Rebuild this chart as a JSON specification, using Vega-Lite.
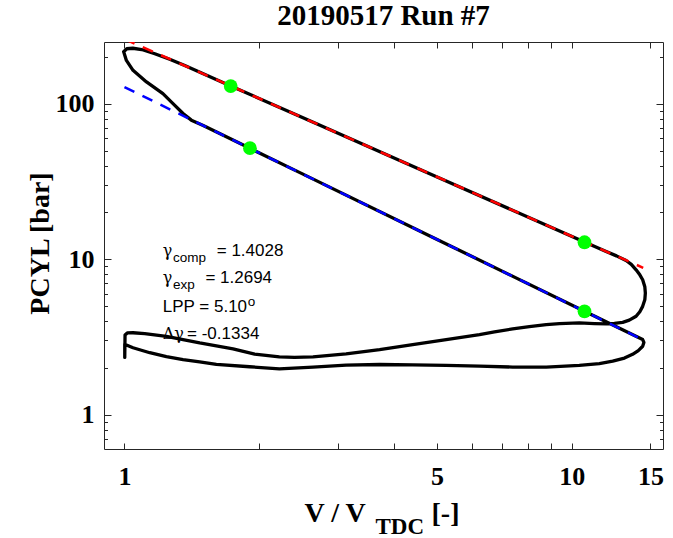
{
  "$schema": "https://vega.github.io/schema/vega-lite/v6.json",
  "width": 559,
  "height": 407,
  "autosize": {"type": "none"},
  "padding": {"left": 104, "top": 42, "right": 10, "bottom": 89},
  "background": "white",
  "config": {
    "view": {"stroke": "#262626", "strokeWidth": 1},
    "axis": {
      "domain": false, "grid": false, "tickColor": "#262626", "tickWidth": 1,
      "labelColor": "#000000", "labelFont": "Liberation Serif", "labelFontWeight": "bold", "labelFontSize": 26,
      "labelOverlap": false,
      "titleFont": "Liberation Serif", "titleFontWeight": "bold", "titleFontSize": 28, "titleColor": "#000000"
    }
  },
  "title": {"text": "20190517 Run #7", "frame": "group", "orient": "top", "font": "Liberation Serif", "fontSize": 29, "fontWeight": "bold", "color": "#000000", "anchor": "middle", "baseline": "alphabetic", "offset": -12},
  "datasets": {
    "loop": [
      {"i": 1, "V": 0.996, "p": 216.4}, {"i": 2, "V": 1.012, "p": 226.2}, {"i": 3, "V": 1.044, "p": 227.9},
      {"i": 4, "V": 1.093, "p": 223.6}, {"i": 5, "V": 1.169, "p": 210.1}, {"i": 6, "V": 1.262, "p": 193.7},
      {"i": 7, "V": 1.364, "p": 176.5}, {"i": 8, "V": 1.728, "p": 130.4}, {"i": 9, "V": 2.5, "p": 81.6},
      {"i": 10, "V": 5.0, "p": 33.8}, {"i": 11, "V": 10.68, "p": 12.9}, {"i": 12, "V": 11.94, "p": 11.2},
      {"i": 13, "V": 12.59, "p": 10.5}, {"i": 14, "V": 13.23, "p": 9.8}, {"i": 15, "V": 13.59, "p": 9.26},
      {"i": 16, "V": 13.93, "p": 8.54}, {"i": 17, "V": 14.2, "p": 7.93}, {"i": 18, "V": 14.41, "p": 7.37},
      {"i": 19, "V": 14.57, "p": 6.65}, {"i": 20, "V": 14.61, "p": 6.05}, {"i": 21, "V": 14.57, "p": 5.48},
      {"i": 22, "V": 14.41, "p": 4.97}, {"i": 23, "V": 14.2, "p": 4.59}, {"i": 24, "V": 13.93, "p": 4.29},
      {"i": 25, "V": 13.45, "p": 4.05}, {"i": 26, "V": 13.0, "p": 3.92}, {"i": 27, "V": 12.46, "p": 3.86},
      {"i": 28, "V": 11.94, "p": 3.83}, {"i": 29, "V": 11.24, "p": 3.85}, {"i": 30, "V": 10.4, "p": 3.89},
      {"i": 31, "V": 9.39, "p": 3.85}, {"i": 32, "V": 8.77, "p": 3.79}, {"i": 33, "V": 8.04, "p": 3.68},
      {"i": 34, "V": 7.38, "p": 3.56}, {"i": 35, "V": 6.72, "p": 3.4}, {"i": 36, "V": 6.22, "p": 3.27},
      {"i": 37, "V": 5.24, "p": 3.04}, {"i": 38, "V": 4.41, "p": 2.82}, {"i": 39, "V": 3.72, "p": 2.62},
      {"i": 40, "V": 3.13, "p": 2.46}, {"i": 41, "V": 2.64, "p": 2.35}, {"i": 42, "V": 2.4, "p": 2.33},
      {"i": 43, "V": 2.22, "p": 2.35}, {"i": 44, "V": 1.955, "p": 2.45}, {"i": 45, "V": 1.749, "p": 2.65},
      {"i": 46, "V": 1.473, "p": 2.89}, {"i": 47, "V": 1.241, "p": 3.19}, {"i": 48, "V": 1.11, "p": 3.32},
      {"i": 49, "V": 1.045, "p": 3.36}, {"i": 50, "V": 1.0145, "p": 3.35}, {"i": 51, "V": 1.003, "p": 3.25},
      {"i": 52, "V": 1.0015, "p": 2.33}, {"i": 53, "V": 1.0015, "p": 2.86}, {"i": 54, "V": 1.01, "p": 2.8},
      {"i": 55, "V": 1.045, "p": 2.69}, {"i": 56, "V": 1.139, "p": 2.5}, {"i": 57, "V": 1.241, "p": 2.36},
      {"i": 58, "V": 1.352, "p": 2.26}, {"i": 59, "V": 1.473, "p": 2.18}, {"i": 60, "V": 1.605, "p": 2.1},
      {"i": 61, "V": 1.905, "p": 2.03}, {"i": 62, "V": 2.22, "p": 1.97}, {"i": 63, "V": 2.64, "p": 2.02},
      {"i": 64, "V": 3.13, "p": 2.08}, {"i": 65, "V": 3.72, "p": 2.1}, {"i": 66, "V": 4.41, "p": 2.09},
      {"i": 67, "V": 5.24, "p": 2.07}, {"i": 68, "V": 6.22, "p": 2.05}, {"i": 69, "V": 7.38, "p": 2.02},
      {"i": 70, "V": 8.77, "p": 2.02}, {"i": 71, "V": 10.4, "p": 2.07}, {"i": 72, "V": 11.53, "p": 2.13},
      {"i": 73, "V": 12.35, "p": 2.21}, {"i": 74, "V": 13.12, "p": 2.31}, {"i": 75, "V": 13.68, "p": 2.44},
      {"i": 76, "V": 14.09, "p": 2.58}, {"i": 77, "V": 14.41, "p": 2.75}, {"i": 78, "V": 14.5, "p": 2.91},
      {"i": 79, "V": 14.41, "p": 3.04}, {"i": 80, "V": 10.68, "p": 4.62}, {"i": 81, "V": 5.0, "p": 13.4},
      {"i": 82, "V": 2.5, "p": 35.4}, {"i": 83, "V": 1.908, "p": 51.7}, {"i": 84, "V": 1.5, "p": 72.5},
      {"i": 85, "V": 1.411, "p": 78.5}, {"i": 86, "V": 1.352, "p": 86.7}, {"i": 87, "V": 1.284, "p": 100.4},
      {"i": 88, "V": 1.219, "p": 116.4}, {"i": 89, "V": 1.12, "p": 138.4}, {"i": 90, "V": 1.045, "p": 164.2},
      {"i": 91, "V": 1.01, "p": 190.3}, {"i": 92, "V": 0.996, "p": 216.4}
    ],
    "fits": [
      {"fit": "exp", "V": 1.0, "p": 261},
      {"fit": "exp", "V": 14.45, "p": 8.8},
      {"fit": "comp", "V": 1.0, "p": 128},
      {"fit": "comp", "V": 14.45, "p": 3.02}
    ],
    "pts": [
      {"V": 1.728, "p": 130.0},
      {"V": 1.908, "p": 51.8},
      {"V": 10.68, "p": 12.85},
      {"V": 10.68, "p": 4.62}
    ],
    "greek": [
      {"V": 1.218, "p": 11.35, "t": "γ"},
      {"V": 1.218, "p": 7.59, "t": "γ"},
      {"V": 1.218, "p": 3.32, "t": "Δγ"}
    ],
    "notes": [
      {"V": 1.608, "p": 11.35, "t": "= 1.4028"},
      {"V": 1.517, "p": 7.59, "t": "= 1.2694"},
      {"V": 1.218, "p": 4.91, "t": "LPP = 5.10"},
      {"V": 1.38, "p": 3.32, "t": "= -0.1334"}
    ],
    "subs": [
      {"V": 1.284, "p": 11.35, "t": "comp"},
      {"V": 1.284, "p": 7.59, "t": "exp"}
    ],
    "sups": [
      {"V": 1.886, "p": 4.91, "t": "o"}
    ]
  },
  "layer": [
    {
      "data": {"name": "loop"},
      "mark": {"type": "line", "color": "#000000", "strokeWidth": 3.3, "strokeJoin": "round", "strokeCap": "round"},
      "encoding": {
        "x": {"field": "V", "type": "quantitative", "scale": {"type": "log", "domain": [0.9, 16], "nice": false},
          "axis": {"orient": "bottom", "values": [1, 2, 3, 4, 5, 6, 7, 8, 9, 10, 15], "tickSize": -6,
            "labelExpr": "indexof([1, 5, 10, 15], datum.value) >= 0 ? '' + datum.value : ''",
            "labelPadding": 20, "title": "V / V", "titleAlign": "left", "titleX": 200, "titleY": 72, "titleBaseline": "alphabetic"}},
        "y": {"field": "p", "type": "quantitative", "scale": {"type": "log", "domain": [0.6, 250], "nice": false},
          "axis": {"orient": "left", "values": [1, 10, 100], "tickSize": -7, "labelPadding": 17,
            "labelExpr": "'' + datum.value",
            "title": "PCYL [bar]", "titleX": -64, "titleY": 201, "titleAngle": -90, "titleAlign": "center", "titleBaseline": "middle"}},
        "order": {"field": "i", "type": "quantitative"}
      }
    },
    {
      "data": {"name": "fits"},
      "transform": [{"filter": "datum.fit == 'exp'"}],
      "mark": {"type": "line", "color": "#ff0000", "strokeWidth": 2.5, "strokeDash": [11, 9], "clip": true},
      "encoding": {
        "x": {"field": "V", "type": "quantitative", "scale": {"type": "log", "domain": [0.9, 16], "nice": false},
          "axis": {"orient": "top", "values": [1, 2, 3, 4, 5, 6, 7, 8, 9, 10, 15], "tickSize": -6, "labels": false, "title": null}},
        "y": {"field": "p", "type": "quantitative", "scale": {"type": "log", "domain": [0.6, 250], "nice": false},
          "axis": {"orient": "right", "values": [1, 10, 100], "tickSize": -7, "labels": false, "title": null}}
      }
    },
    {
      "data": {"name": "fits"},
      "transform": [{"filter": "datum.fit == 'comp'"}],
      "mark": {"type": "line", "color": "#0000ff", "strokeWidth": 2.5, "strokeDash": [11, 9], "clip": true},
      "encoding": {
        "x": {"field": "V", "type": "quantitative", "scale": {"type": "log", "domain": [0.9, 16], "nice": false},
          "axis": {"orient": "bottom", "ticks": false, "labels": false, "title": "TDC", "titleFontSize": 23,
            "titleAlign": "left", "titleX": 271, "titleY": 84, "titleBaseline": "alphabetic"}},
        "y": {"field": "p", "type": "quantitative", "scale": {"type": "log", "domain": [0.6, 250], "nice": false},
          "axis": {"orient": "left", "values": [0.7, 0.8, 0.9, 2, 3, 4, 5, 6, 7, 8, 9, 20, 30, 40, 50, 60, 70, 80, 90, 200], "tickSize": -3.5, "labels": false, "title": null}}
      }
    },
    {
      "data": {"name": "pts"},
      "mark": {"type": "circle", "color": "#00ff00", "opacity": 1, "size": 190},
      "encoding": {
        "x": {"field": "V", "type": "quantitative", "scale": {"type": "log", "domain": [0.9, 16], "nice": false},
          "axis": {"orient": "bottom", "ticks": false, "labels": false, "title": "[-]",
            "titleAlign": "left", "titleX": 327, "titleY": 72, "titleBaseline": "alphabetic"}},
        "y": {"field": "p", "type": "quantitative", "scale": {"type": "log", "domain": [0.6, 250], "nice": false},
          "axis": {"orient": "right", "values": [0.7, 0.8, 0.9, 2, 3, 4, 5, 6, 7, 8, 9, 20, 30, 40, 50, 60, 70, 80, 90, 200], "tickSize": -3.5, "labels": false, "title": null}}
      }
    },
    {
      "data": {"name": "greek"},
      "mark": {"type": "text", "align": "left", "baseline": "middle", "font": "DejaVu Serif", "fontSize": 16, "color": "#000000"},
      "encoding": {
        "x": {"field": "V", "type": "quantitative", "scale": {"type": "log", "domain": [0.9, 16], "nice": false}, "axis": null},
        "y": {"field": "p", "type": "quantitative", "scale": {"type": "log", "domain": [0.6, 250], "nice": false}, "axis": null},
        "text": {"field": "t"}
      }
    },
    {
      "data": {"name": "notes"},
      "mark": {"type": "text", "align": "left", "baseline": "middle", "font": "Liberation Sans", "fontSize": 17, "color": "#000000"},
      "encoding": {
        "x": {"field": "V", "type": "quantitative", "scale": {"type": "log", "domain": [0.9, 16], "nice": false}, "axis": null},
        "y": {"field": "p", "type": "quantitative", "scale": {"type": "log", "domain": [0.6, 250], "nice": false}, "axis": null},
        "text": {"field": "t"}
      }
    },
    {
      "data": {"name": "subs"},
      "mark": {"type": "text", "align": "left", "baseline": "middle", "font": "Liberation Sans", "fontSize": 13.5, "dy": 7, "color": "#000000"},
      "encoding": {
        "x": {"field": "V", "type": "quantitative", "scale": {"type": "log", "domain": [0.9, 16], "nice": false}, "axis": null},
        "y": {"field": "p", "type": "quantitative", "scale": {"type": "log", "domain": [0.6, 250], "nice": false}, "axis": null},
        "text": {"field": "t"}
      }
    },
    {
      "data": {"name": "sups"},
      "mark": {"type": "text", "align": "left", "baseline": "middle", "font": "Liberation Sans", "fontSize": 13.5, "dy": -5, "color": "#000000"},
      "encoding": {
        "x": {"field": "V", "type": "quantitative", "scale": {"type": "log", "domain": [0.9, 16], "nice": false}, "axis": null},
        "y": {"field": "p", "type": "quantitative", "scale": {"type": "log", "domain": [0.6, 250], "nice": false}, "axis": null},
        "text": {"field": "t"}
      }
    }
  ],
  "resolve": {"axis": {"x": "independent", "y": "independent"}}
}
